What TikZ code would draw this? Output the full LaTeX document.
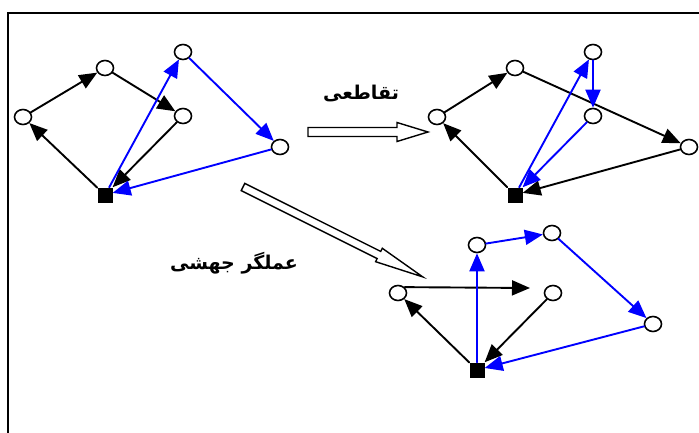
\documentclass[tikz,border=0pt]{standalone}
\usepackage{fontspec}
\newfontfamily\persianfont[Script=Arabic]{DejaVu Sans}
\TeXXeTstate=1
\usetikzlibrary{arrows.meta,shapes.geometric}

\begin{document}
\begin{tikzpicture}
		[x=1pt,y=-1pt,line cap=round,
		%Styles
		vertex/.style={ellipse,draw,line width=1.6pt,fill=white,minimum width=17pt,minimum height=15pt,inner sep=0pt},
		root/.style={rectangle,fill=black,minimum size=15pt,inner sep=0pt},
		black edge/.style={line width=1.9pt,-{Triangle[length=18pt,width=15pt]}},
		blue edge/.style={black edge,color=blue},
		hollow arrow/.style={draw,line width=1.4pt,fill=white,line join=miter},
		label text/.style={font=\persianfont\bfseries\fontsize{19}{22}\selectfont}
		]
		
		\useasboundingbox (0,0) rectangle (699,433);
		
		%Frame
		\draw[line width=2pt,line cap=butt] (8,433) -- (8,13) -- (699,13);
		
		%The graphic: parent
		\node[vertex] (a1) at (23,117) {};
		\node[vertex] (b1) at (105,68) {};
		\node[vertex] (c1) at (183,52) {};
		\node[vertex] (d1) at (183,116) {};
		\node[vertex] (e1) at (280,147) {};
		\node[root] (s1) at (105,195) {};
		
		\draw[black edge] (s1) -- (a1);
		\draw[black edge] (a1) -- (b1);
		\draw[black edge] (b1) -- (d1);
		\draw[black edge] (d1) -- (s1);
		\draw[blue edge] (s1) -- (c1);
		\draw[blue edge] (c1) -- (e1);
		\draw[blue edge] (e1) -- (s1);
		
		%The graphic: crossover child
		\node[vertex] (a2) at (437,117) {};
		\node[vertex] (b2) at (515,68) {};
		\node[vertex] (c2) at (593,52) {};
		\node[vertex] (d2) at (593,116) {};
		\node[vertex] (e2) at (689,147) {};
		\node[root] (s2) at (515,195) {};
		
		\draw[black edge] (s2) -- (a2);
		\draw[black edge] (a2) -- (b2);
		\draw[black edge] (b2) -- (e2);
		\draw[black edge] (e2) -- (s2);
		\draw[blue edge] (s2) -- (c2);
		\draw[blue edge] (c2) -- (d2);
		\draw[blue edge] (d2) -- (s2);
		
		%The graphic: mutation child
		\node[vertex] (a3) at (398,293) {};
		\node[vertex] (b3) at (477,245) {};
		\node[vertex] (c3) at (552,233) {};
		\node[vertex] (d3) at (553,293) {};
		\node[vertex] (e3) at (653,324) {};
		\node[root] (s3) at (477,370) {};
		\coordinate (x3) at (530,288);
		
		\draw[black edge] (s3) -- (a3);
		\draw[black edge] (a3.north east) -- (x3);
		\draw[black edge] (d3) -- (s3);
		\draw[blue edge] (s3) -- (b3);
		\draw[blue edge] (b3) -- (c3);
		\draw[blue edge] (c3) -- (e3);
		\draw[blue edge] (e3) -- (s3);
		
		%Hollow arrows
		\draw[hollow arrow] (308,127.5) -- (397,127.5) -- (397,122.5) -- (428,132)
			-- (397,141.5) -- (397,136.5) -- (308,136.5) -- cycle;
		\begin{scope}[shift={(243,187)},rotate=-26.57]
			\draw[hollow arrow] (0,-4) -- (152,-4) -- (152,-7.5) -- (201,0)
				-- (152,7.5) -- (152,4) -- (0,4) -- cycle;
		\end{scope}
		
		%Labels
		\node[label text] (crosslbl) at (361,93) {\beginR تقاطعی\endR};
		\node[label text] (mutlbl) at (234,263) {\beginR عملگر جهشی\endR};
	\end{tikzpicture}
\end{document}
